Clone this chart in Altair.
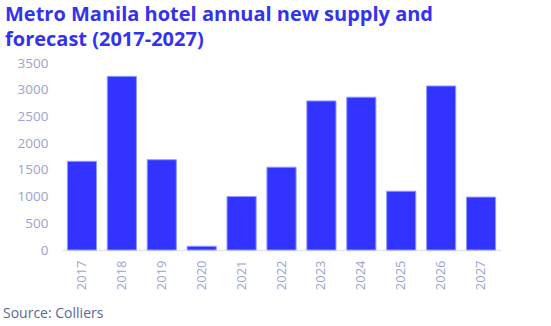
import altair as alt
import pandas as pd

years = ["2017", "2018", "2019", "2020", "2021", "2022", "2023", "2024", "2025", "2026", "2027"]
supply = [1660, 3250, 1690, 70, 1000, 1550, 2790, 2860, 1100, 3070, 990]
y_ticks = [0, 500, 1000, 1500, 2000, 2500, 3000, 3500]
title_lines = ["Metro Manila hotel annual new supply and", "forecast (2017-2027)"]
source_text = ["Source: Colliers"]

df = pd.DataFrame({"year": years, "supply": supply})
FONT = "Open Sans"
W, H = 439, 187

bars = alt.Chart(df).mark_bar(
    color="#3333ff", stroke="#8c9cff", strokeWidth=1
).encode(
    x=alt.X("year:N", sort=years, title=None,
            scale=alt.Scale(paddingInner=0.27, paddingOuter=0.135),
            axis=alt.Axis(labelAngle=-90, labelFontSize=13, labelColor="#9ba3cc",
                          labelFont=FONT, ticks=False, domainColor="#e3e5ee",
                          domainWidth=1.5, labelPadding=10, labelAlign="right",
                          labelBaseline="middle")),
    y=alt.Y("supply:Q", title=None,
            scale=alt.Scale(domain=[0, 3500], nice=False),
            axis=alt.Axis(values=y_ticks, format="d", grid=False, domain=False, ticks=False,
                          labelFontSize=13.5, labelColor="#9ba3cc", labelFont=FONT,
                          labelPadding=14)),
)

src = alt.Chart(pd.DataFrame({"t": source_text})).mark_text(
    align="left", baseline="alphabetic", font=FONT, fontSize=14, color="#5b6796"
).encode(text="t:N", x=alt.value(-59), y=alt.value(H + 68))

chart = alt.layer(bars, src).properties(
    width=W, height=H,
    background="white",
    title=alt.TitleParams(text=title_lines, anchor="start", frame="group", dx=-57,
                          fontSize=20, font=FONT, fontWeight="bold", color="#3333ee",
                          lineHeight=25, offset=6),
    autosize=alt.AutoSizeParams(type="none"),
    padding={"left": 62, "top": 63, "right": 50, "bottom": 76},
).configure_view(strokeWidth=0, stroke="transparent")

chart.save("out.html", embed_options={"renderer": "svg", "actions": False})
